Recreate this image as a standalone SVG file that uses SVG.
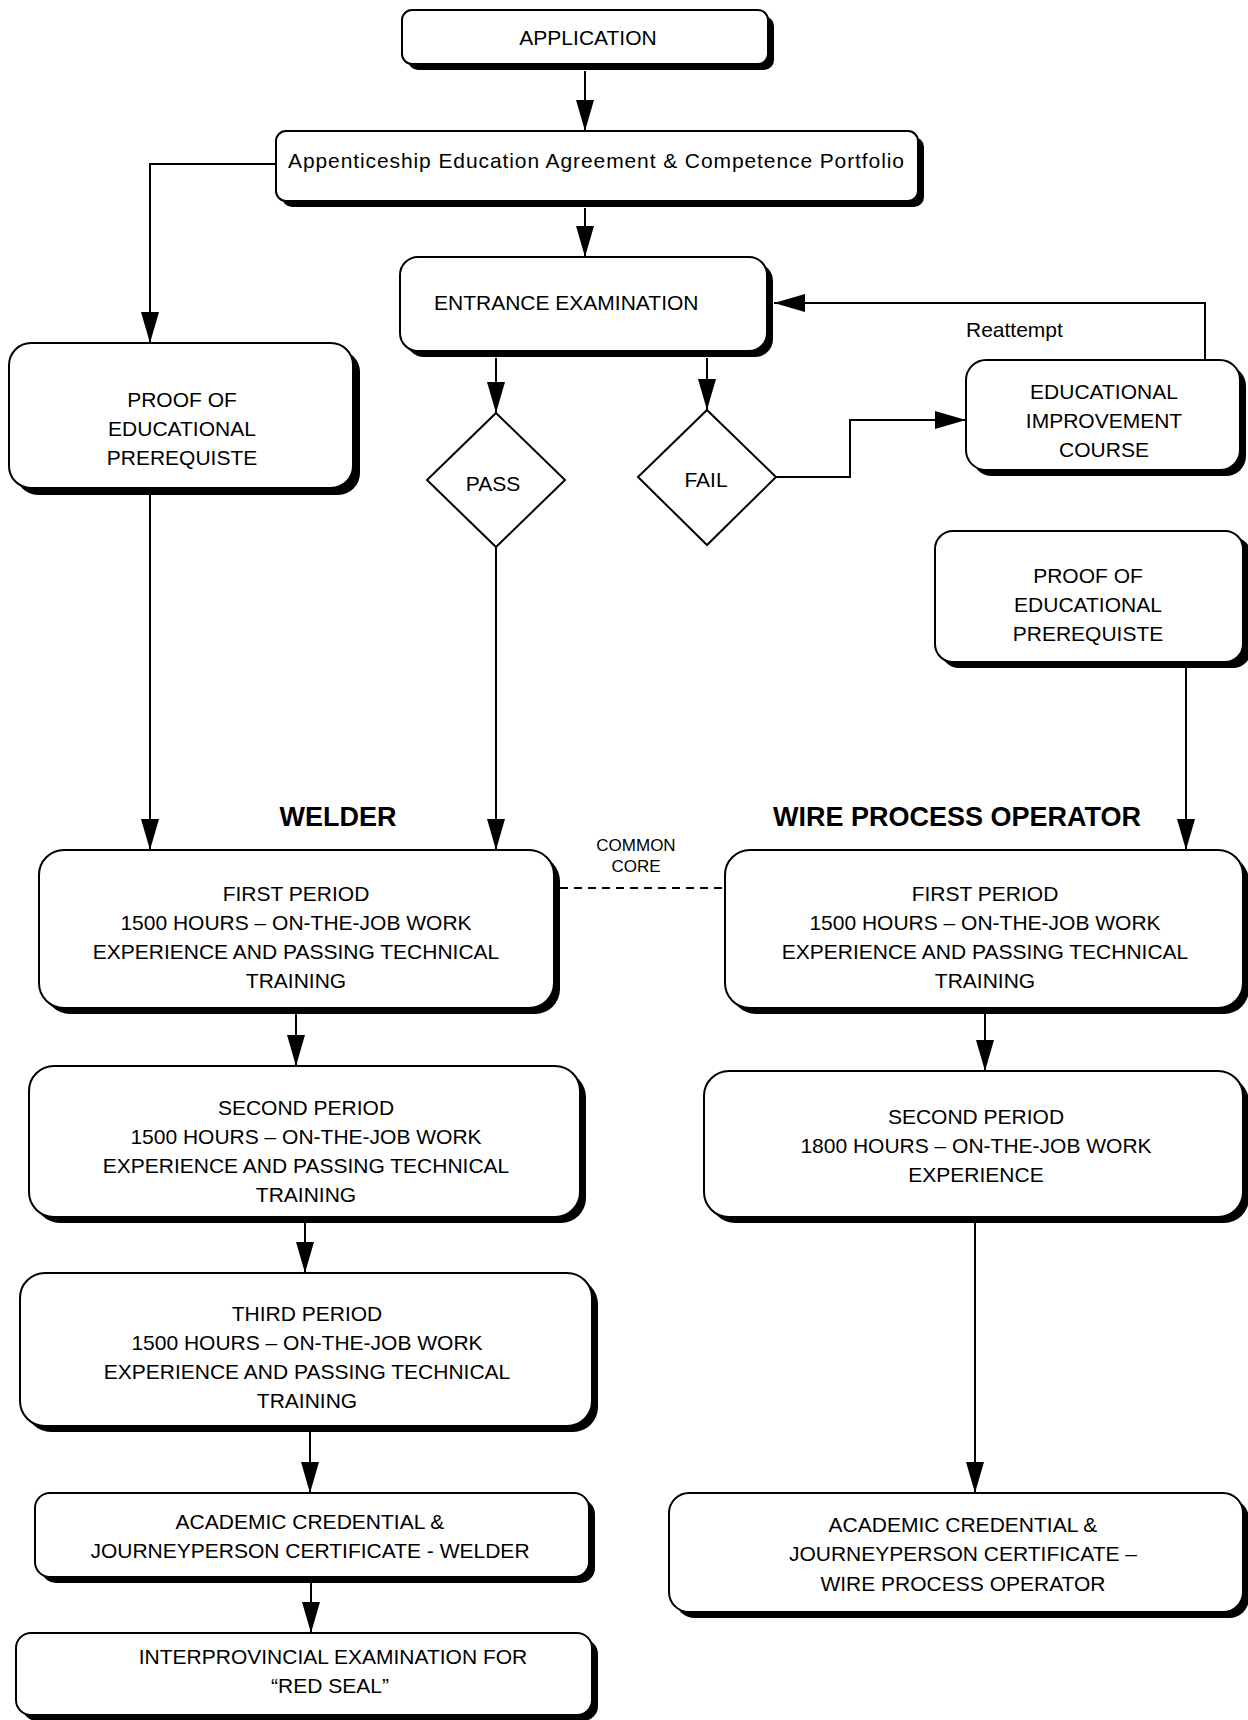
<svg xmlns="http://www.w3.org/2000/svg" width="1248" height="1720" viewBox="0 0 1248 1720">
<defs>
<style>
.bx{fill:#fff;stroke:#000;stroke-width:2}
.sh{fill:#000}
.t{font-family:"Liberation Sans",Arial,sans-serif;font-size:21px;fill:#000;text-anchor:middle}
.ts{font-family:"Liberation Sans",Arial,sans-serif;font-size:21px;fill:#000;text-anchor:start}
.hd{font-family:"Liberation Sans",Arial,sans-serif;font-size:27px;font-weight:bold;fill:#000;text-anchor:middle}
.sm{font-family:"Liberation Sans",Arial,sans-serif;font-size:17px;fill:#000;text-anchor:middle}
.c{fill:none;stroke:#000;stroke-width:2}
.d{fill:none;stroke:#000;stroke-width:2;stroke-dasharray:8 6}
</style>
<marker id="ah" markerUnits="userSpaceOnUse" markerWidth="32" markerHeight="18" refX="31" refY="9" orient="auto">
<path d="M0,0 L31,9 L0,18 Z" fill="#000"/>
</marker>
</defs>
<rect width="1248" height="1720" fill="#fff"/>

<g id="connectors">
<path class="c" d="M585,71 V131" marker-end="url(#ah)"/>
<path class="c" d="M276,164 H150 V343" marker-end="url(#ah)"/>
<path class="c" d="M585,208 V257" marker-end="url(#ah)"/>
<path class="c" d="M496,358 V413" marker-end="url(#ah)"/>
<path class="c" d="M707,358 V410" marker-end="url(#ah)"/>
<path class="c" d="M776,477 H850 V420 H966" marker-end="url(#ah)"/>
<path class="c" d="M1205,360 V303 H774" marker-end="url(#ah)"/>
<path class="c" d="M150,494 V850" marker-end="url(#ah)"/>
<path class="c" d="M496,547 V850" marker-end="url(#ah)"/>
<path class="c" d="M1186,668 V850" marker-end="url(#ah)"/>
<path class="d" d="M560,888 H725"/>
<path class="c" d="M296,1014 V1066" marker-end="url(#ah)"/>
<path class="c" d="M305,1223 V1273" marker-end="url(#ah)"/>
<path class="c" d="M310,1432 V1493" marker-end="url(#ah)"/>
<path class="c" d="M311,1583 V1633" marker-end="url(#ah)"/>
<path class="c" d="M985,1014 V1071" marker-end="url(#ah)"/>
<path class="c" d="M975,1223 V1493" marker-end="url(#ah)"/>
<text class="ts" x="966" y="337">Reattempt</text>
<text class="sm" x="636" y="851">COMMON</text>
<text class="sm" x="636" y="872">CORE</text>
</g>

<g id="application">
<rect class="sh" x="408" y="16" width="366" height="54" rx="10"/>
<rect class="bx" x="402" y="10" width="366" height="54" rx="10"/>
<text class="t" x="588" y="45">APPLICATION</text>
</g>

<g id="agreement">
<rect class="sh" x="282" y="137" width="642" height="70" rx="10"/>
<rect class="bx" x="276" y="131" width="642" height="70" rx="10"/>
<text class="ts" x="288" y="168" textLength="616" lengthAdjust="spacing">Appenticeship Education Agreement &amp; Competence Portfolio</text>
</g>

<g id="entrance">
<rect class="sh" x="406" y="263" width="367" height="94" rx="18"/>
<rect class="bx" x="400" y="257" width="367" height="94" rx="18"/>
<text class="ts" x="434" y="310">ENTRANCE EXAMINATION</text>
</g>

<g id="proof-left">
<rect class="sh" x="16" y="350" width="344" height="145" rx="22"/>
<rect class="bx" x="9" y="343" width="344" height="145" rx="22"/>
<text class="t" x="182" y="407">PROOF OF</text>
<text class="t" x="182" y="436">EDUCATIONAL</text>
<text class="t" x="182" y="465">PREREQUISTE</text>
</g>

<g id="pass">
<polygon class="bx" points="496,413 565,480 496,547 427,480"/>
<text class="t" x="493" y="491">PASS</text>
</g>

<g id="fail">
<polygon class="bx" points="707,410 776,477 707,545 638,477"/>
<text class="t" x="706" y="487">FAIL</text>
</g>

<g id="improvement">
<rect class="sh" x="972" y="366" width="274" height="110" rx="20"/>
<rect class="bx" x="966" y="360" width="274" height="110" rx="20"/>
<text class="t" x="1104" y="399">EDUCATIONAL</text>
<text class="t" x="1104" y="428">IMPROVEMENT</text>
<text class="t" x="1104" y="457">COURSE</text>
</g>

<g id="proof-right">
<rect class="sh" x="941" y="537" width="310" height="131" rx="18"/>
<rect class="bx" x="935" y="531" width="308" height="131" rx="18"/>
<text class="t" x="1088" y="583">PROOF OF</text>
<text class="t" x="1088" y="612">EDUCATIONAL</text>
<text class="t" x="1088" y="641">PREREQUISTE</text>
</g>

<g id="welder-label">
<text class="hd" x="338" y="826">WELDER</text>
</g>

<g id="wpo-label">
<text class="hd" x="957" y="826">WIRE PROCESS OPERATOR</text>
</g>

<g id="welder-first">
<rect class="sh" x="45" y="856" width="515" height="158" rx="25"/>
<rect class="bx" x="39" y="850" width="515" height="158" rx="25"/>
<text class="t" x="296" y="901">FIRST PERIOD</text>
<text class="t" x="296" y="930">1500 HOURS – ON-THE-JOB WORK</text>
<text class="t" x="296" y="959">EXPERIENCE AND PASSING TECHNICAL</text>
<text class="t" x="296" y="988">TRAINING</text>
</g>

<g id="wpo-first">
<rect class="sh" x="731" y="856" width="518" height="158" rx="25"/>
<rect class="bx" x="725" y="850" width="518" height="158" rx="25"/>
<text class="t" x="985" y="901">FIRST PERIOD</text>
<text class="t" x="985" y="930">1500 HOURS – ON-THE-JOB WORK</text>
<text class="t" x="985" y="959">EXPERIENCE AND PASSING TECHNICAL</text>
<text class="t" x="985" y="988">TRAINING</text>
</g>

<g id="welder-second">
<rect class="sh" x="35" y="1072" width="551" height="151" rx="25"/>
<rect class="bx" x="29" y="1066" width="551" height="151" rx="25"/>
<text class="t" x="306" y="1115">SECOND PERIOD</text>
<text class="t" x="306" y="1144">1500 HOURS – ON-THE-JOB WORK</text>
<text class="t" x="306" y="1173">EXPERIENCE AND PASSING TECHNICAL</text>
<text class="t" x="306" y="1202">TRAINING</text>
</g>

<g id="wpo-second">
<rect class="sh" x="710" y="1077" width="539" height="146" rx="25"/>
<rect class="bx" x="704" y="1071" width="539" height="146" rx="25"/>
<text class="t" x="976" y="1124">SECOND PERIOD</text>
<text class="t" x="976" y="1153">1800 HOURS – ON-THE-JOB WORK</text>
<text class="t" x="976" y="1182">EXPERIENCE</text>
</g>

<g id="welder-third">
<rect class="sh" x="26" y="1279" width="572" height="153" rx="25"/>
<rect class="bx" x="20" y="1273" width="572" height="153" rx="25"/>
<text class="t" x="307" y="1321">THIRD PERIOD</text>
<text class="t" x="307" y="1350">1500 HOURS – ON-THE-JOB WORK</text>
<text class="t" x="307" y="1379">EXPERIENCE AND PASSING TECHNICAL</text>
<text class="t" x="307" y="1408">TRAINING</text>
</g>

<g id="welder-credential">
<rect class="sh" x="41" y="1499" width="554" height="84" rx="15"/>
<rect class="bx" x="35" y="1493" width="554" height="84" rx="15"/>
<text class="t" x="310" y="1529">ACADEMIC CREDENTIAL &amp;</text>
<text class="t" x="310" y="1558">JOURNEYPERSON CERTIFICATE - WELDER</text>
</g>

<g id="red-seal">
<rect class="sh" x="22" y="1639" width="576" height="82" rx="15"/>
<rect class="bx" x="16" y="1633" width="576" height="82" rx="15"/>
<text class="t" x="333" y="1664">INTERPROVINCIAL EXAMINATION FOR</text>
<text class="t" x="330" y="1693">“RED SEAL”</text>
</g>

<g id="wpo-credential">
<rect class="sh" x="675" y="1499" width="574" height="119" rx="20"/>
<rect class="bx" x="669" y="1493" width="574" height="119" rx="20"/>
<text class="t" x="963" y="1532">ACADEMIC CREDENTIAL &amp;</text>
<text class="t" x="963" y="1561">JOURNEYPERSON CERTIFICATE –</text>
<text class="t" x="963" y="1591">WIRE PROCESS OPERATOR</text>
</g>
</svg>
